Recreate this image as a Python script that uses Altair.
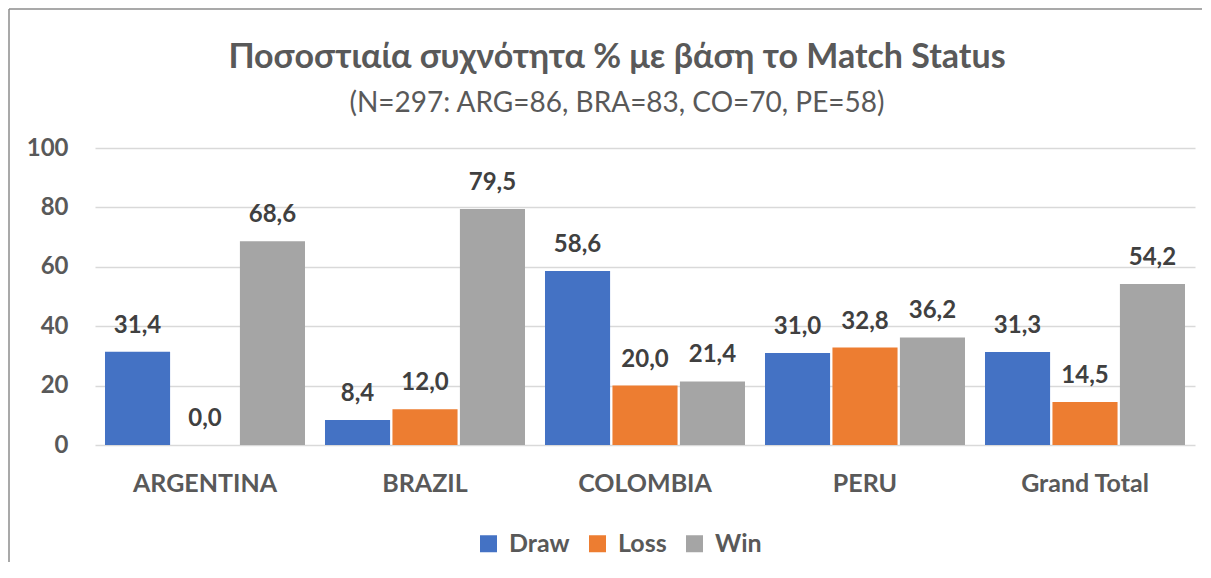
import altair as alt
import pandas as pd

countries = ["ARGENTINA", "BRAZIL", "COLOMBIA", "PERU", "Grand Total"]
statuses = ["Draw", "Loss", "Win"]
draw = [31.4, 8.4, 58.6, 31.0, 31.3]
loss = [0.0, 12.0, 20.0, 32.8, 14.5]
win = [68.6, 79.5, 21.4, 36.2, 54.2]
colors = ["#4472C4", "#ED7D31", "#A5A5A5"]
y_ticks = [0, 20, 40, 60, 80, 100]

rows = []
for i, c in enumerate(countries):
    for s, vals in zip(statuses, [draw, loss, win]):
        rows.append({"country": c, "status": s, "value": vals[i]})
df = pd.DataFrame(rows)

FONT = "Lato"
TXT = "#595959"
W, H = 1100, 297

base = alt.Chart(df).encode(
    x=alt.X("country:N", sort=countries, title=None,
            scale=alt.Scale(paddingInner=0.0909, paddingOuter=0.04545),
            axis=alt.Axis(labelAngle=0, labelFontSize=25, labelFontWeight="bold",
                          labelColor=TXT, labelFont=FONT, labelPadding=26,
                          domain=False, ticks=False, grid=False)),
    xOffset=alt.XOffset("status:N", sort=statuses,
                        scale=alt.Scale(paddingInner=0.035)),
)

bars = base.mark_bar().encode(
    y=alt.Y("value:Q", title=None,
            scale=alt.Scale(domain=[0, 100]),
            axis=alt.Axis(values=y_ticks, labelFontSize=24, labelFontWeight="bold",
                          labelColor=TXT, labelFont=FONT, labelPadding=27,
                          domain=False, ticks=False, gridColor="#D9D9D9",
                          gridWidth=1.3)),
    color=alt.Color("status:N", sort=statuses,
                    scale=alt.Scale(domain=statuses, range=colors),
                    legend=alt.Legend(title=None, orient="none", direction="horizontal",
                                      legendX=381, legendY=383,
                                      symbolType="square", symbolSize=289,
                                      symbolStrokeWidth=0, labelFontSize=25,
                                      labelFontWeight="bold", labelColor=TXT,
                                      labelFont=FONT, labelOffset=8,
                                      columnPadding=15)),
)

labels = base.mark_text(font=FONT, fontSize=24, fontWeight="bold", color="#404040",
                        baseline="alphabetic", dy=-19).encode(
    y=alt.Y("value:Q"),
    text=alt.Text("label:N"),
).transform_calculate(label="replace(format(datum.value, '.1f'), '.', ',')")

frame_data = alt.Data(values=[{"k": 1}])
top_rule = alt.Chart(frame_data).mark_rule(color="#8C8C8C", strokeWidth=1.5).encode(
    x=alt.value(-86), x2=alt.value(1107), y=alt.value(-139))
left_rule = alt.Chart(frame_data).mark_rule(color="#8C8C8C", strokeWidth=1.5).encode(
    x=alt.value(-86), y=alt.value(-139), y2=alt.value(414))

chart = alt.layer(bars, labels, top_rule, left_rule).properties(
    width=W, height=H,
    padding={"left": 0, "top": 0, "right": 0, "bottom": 0},
    title=alt.TitleParams(
        text="Ποσοστιαία συχνότητα % με βάση το Match Status",
        subtitle="(N=297: ARG=86, BRA=83, CO=70, PE=58)",
        font=FONT, fontSize=34, fontWeight="bold", color=TXT,
        subtitleFont=FONT, subtitleFontSize=28, subtitleColor=TXT,
        subtitlePadding=15, anchor="middle", dx=-28, offset=-110,
    ),
).configure(font=FONT).configure_view(stroke=None)

chart.save("out.html", embed_options={"renderer": "svg", "actions": False})
